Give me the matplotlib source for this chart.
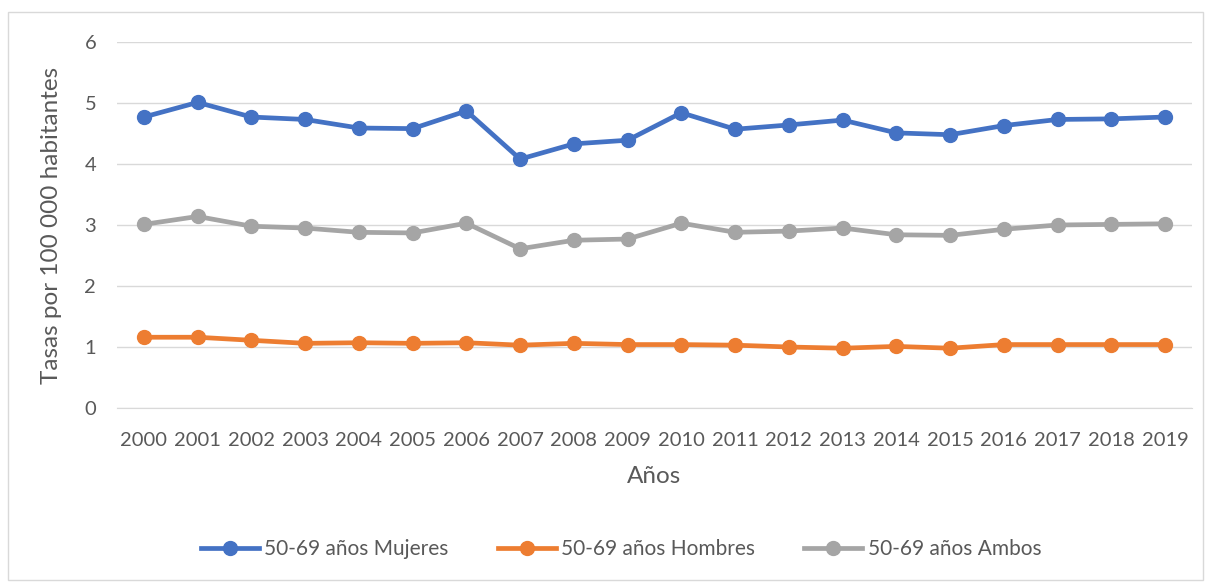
import matplotlib.pyplot as plt
from matplotlib.patches import Rectangle

years = [str(y) for y in range(2000, 2020)]
mujeres = [4.77, 5.01, 4.77, 4.73, 4.59, 4.58, 4.87, 4.08, 4.33, 4.39,
           4.84, 4.57, 4.64, 4.72, 4.51, 4.48, 4.63, 4.73, 4.74, 4.77]
hombres = [1.16, 1.16, 1.11, 1.06, 1.07, 1.06, 1.07, 1.03, 1.06, 1.04,
           1.04, 1.03, 1.00, 0.98, 1.01, 0.98, 1.04, 1.04, 1.04, 1.04]
ambos = [3.01, 3.14, 2.98, 2.95, 2.88, 2.87, 3.03, 2.61, 2.75, 2.77,
         3.03, 2.88, 2.90, 2.95, 2.84, 2.83, 2.93, 3.00, 3.01, 3.02]
series_names = ["50-69 años Mujeres", "50-69 años Hombres", "50-69 años Ambos"]
colors = ["#4472C4", "#ED7D31", "#A5A5A5"]
text_color = "#595959"

plt.rcParams['font.family'] = ['Lato', 'DejaVu Sans']

W, H = 1211, 582
fig = plt.figure(figsize=(W / 100, H / 100), dpi=100)
ax = fig.add_axes([117 / W, 1 - 408 / H, (1192 - 117) / W, (408 - 42) / H])

# light frame round the whole chart
fig.patches.append(Rectangle((8 / W, 2 / H), 1195 / W, 568 / H,
                             transform=fig.transFigure, fill=False,
                             edgecolor="#D9D9D9", linewidth=1))

x = range(len(years))
for vals, name, c in zip([mujeres, hombres, ambos], series_names, colors):
    ax.plot(x, vals, "-o", color=c, lw=3.4, markersize=10, label=name, zorder=3)

ax.set_xlim(-0.5, len(years) - 0.5)
ax.set_ylim(0, 6)
ax.set_yticks(range(0, 7))
ax.set_xticks(list(x))
ax.set_xticklabels(years)
ax.grid(axis="y", color="#D9D9D9", lw=1)
ax.set_axisbelow(True)
for s in ["top", "right", "left"]:
    ax.spines[s].set_visible(False)
ax.spines["bottom"].set_color("#D9D9D9")
ax.tick_params(length=0, labelsize=14.5, colors=text_color)
ax.tick_params(axis="x", pad=17)
ax.tick_params(axis="y", pad=15)

ax.set_xlabel("Años", fontsize=17.5, color=text_color)
ax.set_ylabel("Tasas por 100 000 habitantes", fontsize=17.5, color=text_color)
ax.xaxis.set_label_coords(0.5, 1 - (466 - 42) / (408 - 42))
ax.yaxis.set_label_coords((62 - 117) / (1192 - 117), 0.5)

fig.legend(loc="center", bbox_to_anchor=(621 / W, 1 - 549 / H), ncol=3, frameon=False,
           fontsize=15, labelcolor=text_color, handlelength=2.8, columnspacing=2.35,
           handletextpad=0.25)

fig.savefig("out.png", dpi=100)
